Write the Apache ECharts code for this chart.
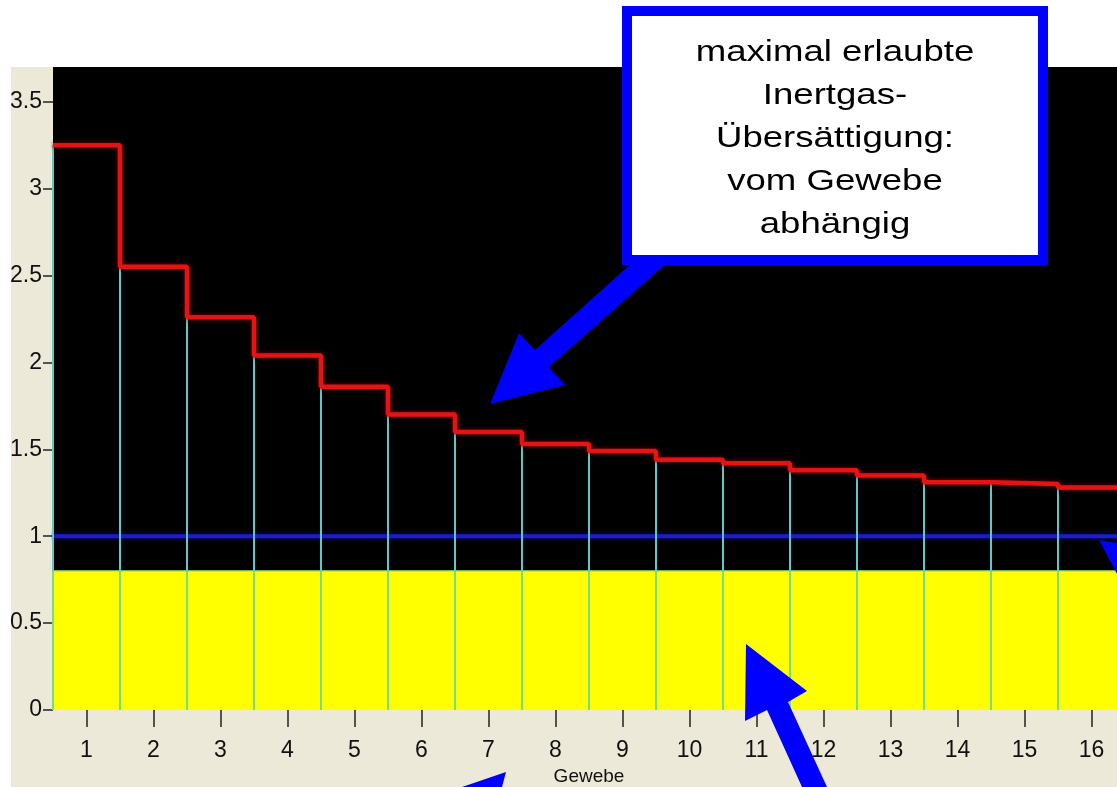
<!DOCTYPE html>
<html>
<head>
<meta charset="utf-8">
<script src="https://cdn.jsdelivr.net/npm/echarts@6/dist/echarts.min.js"></script>
<style>
  html, body { margin: 0; padding: 0; background: #ffffff; }
  #chart { width: 1117px; height: 787px; }
</style>
</head>
<body>
<div id="chart"></div>
<script>
// ---- data ----
const gewebe = [1, 2, 3, 4, 5, 6, 7, 8, 9, 10, 11, 12, 13, 14, 15, 16];
const maxSupersat = [3.25, 2.55, 2.26, 2.04, 1.86, 1.70, 1.60, 1.53, 1.49, 1.44, 1.42, 1.38, 1.35, 1.31, 1.30, 1.28];
const referenceLevel = 1.0;
const yellowLevel = 0.8;
const yTicks = [0, 0.5, 1, 1.5, 2, 2.5, 3, 3.5];
const xName = 'Gewebe';
const noteLines = ['maximal erlaubte', 'Inertgas-', 'Übersättigung:', 'vom Gewebe', 'abhängig'];

// ---- derived ----
const xMin = gewebe[0] - 0.5;
const xMax = gewebe[gewebe.length - 1] + 0.5;
const stepData = maxSupersat.map((v, i) => [gewebe[i] - 0.5, v]);
stepData.push([xMax, maxSupersat[maxSupersat.length - 1]]);
const edgeData = maxSupersat.map((v, i) => [gewebe[i] - 0.5, v]);

const axisFont = 'Liberation Sans';

const chart = echarts.init(document.getElementById('chart'), null, { renderer: 'canvas' });

const option = {
  backgroundColor: '#ffffff',
  animation: false,
  grid: {
    left: 53, right: -8, top: 67, bottom: 77,
    containLabel: false, outerBoundsMode: 'none',
    show: true, backgroundColor: '#000000', borderWidth: 0
  },
  xAxis: {
    type: 'value', min: xMin, max: xMax,
    name: xName, nameLocation: 'middle', nameGap: 57,
    nameTextStyle: { fontFamily: axisFont, fontSize: 19, color: '#111' },
    axisLine: { show: false },
    splitLine: { show: false },
    axisTick: { show: true, customValues: gewebe, length: 17, lineStyle: { color: '#222', width: 1.5 } },
    axisLabel: { customValues: gewebe, fontFamily: axisFont, fontSize: 23, color: '#111', margin: 29 }
  },
  yAxis: {
    type: 'value', min: 0, max: 3.7,
    axisLine: { show: false },
    splitLine: { show: false },
    axisTick: { show: true, customValues: yTicks, length: 10, lineStyle: { color: '#222', width: 1.5 } },
    axisLabel: { customValues: yTicks, fontFamily: axisFont, fontSize: 23, color: '#111', margin: 11,
      formatter: v => String(v) }
  },
  series: [
    {
      type: 'line', name: 'yellow', z: 1, silent: true,
      data: [[xMin, yellowLevel], [xMax, yellowLevel]],
      symbol: 'none',
      lineStyle: { color: '#a8e860', width: 1.5 },
      areaStyle: { color: '#ffff00', opacity: 1 }
    },
    {
      type: 'line', name: 'ref', z: 2, silent: true,
      data: [[xMin, referenceLevel], [xMax, referenceLevel]],
      symbol: 'none',
      lineStyle: { color: '#1c1cd0', width: 4, shadowColor: '#08086a', shadowBlur: 5 }
    },
    {
      type: 'custom', name: 'edges', z: 3, silent: true,
      data: edgeData,
      renderItem: function (params, api) {
        const x = api.value(0), v = api.value(1);
        const p0 = api.coord([x, 0]);
        const pY = api.coord([x, yellowLevel]);
        const p1 = api.coord([x, v]);
        return {
          type: 'group',
          children: [
            { type: 'line', shape: { x1: p0[0], y1: p0[1], x2: pY[0], y2: pY[1] },
              style: { stroke: '#74dc8c', lineWidth: 2 } },
            { type: 'line', shape: { x1: pY[0], y1: pY[1], x2: p1[0], y2: p1[1] },
              style: { stroke: '#5cc8c8', lineWidth: 2 } }
          ]
        };
      }
    },
    {
      type: 'line', name: 'max', z: 4, silent: true,
      data: stepData, step: 'end',
      symbol: 'none',
      lineStyle: { color: '#e41414', width: 4.5, shadowColor: 'rgba(150,0,0,0.9)', shadowBlur: 4 }
    }
  ],
  graphic: [
    { type: 'rect', z: -10, shape: { x: 11, y: 67, width: 1106, height: 720 }, style: { fill: '#ece9d8' } },
    // arrow from note box to the red curve
    { type: 'polygon', z: 100, shape: { points: [[490,404],[519,333],[535,350],[633,262],[668,262],[549,367],[565,385]] },
      style: { fill: '#0000ff' } },
    // note box
    { type: 'rect', z: 101, shape: { x: 627, y: 11, width: 416, height: 249 },
      style: { fill: '#ffffff', stroke: '#0000ff', lineWidth: 10 } },
    { type: 'text', z: 102, x: 835, y: 139, scaleX: 1.22,
      style: { text: noteLines.join('\n'), fontFamily: 'Liberation Sans', fontSize: 30,
        lineHeight: 43, fill: '#000', align: 'center', verticalAlign: 'middle' } },
    // arrow pointing to the yellow area
    { type: 'polygon', z: 100, shape: { points: [[746,644],[807,691],[788,702],[827,787],[802,787],[767,710],[745,721]] },
      style: { fill: '#0000ff' } },
    // partial arrow at bottom-left
    { type: 'polygon', z: 100, shape: { points: [[506,772],[462,787],[502,787]] }, style: { fill: '#0000ff' } },
    // partial arrow at right edge
    { type: 'polygon', z: 100, shape: { points: [[1099,540],[1117,543],[1117,574]] }, style: { fill: '#0000ff' } }
  ]
};
chart.setOption(option);
</script>
</body>
</html>
